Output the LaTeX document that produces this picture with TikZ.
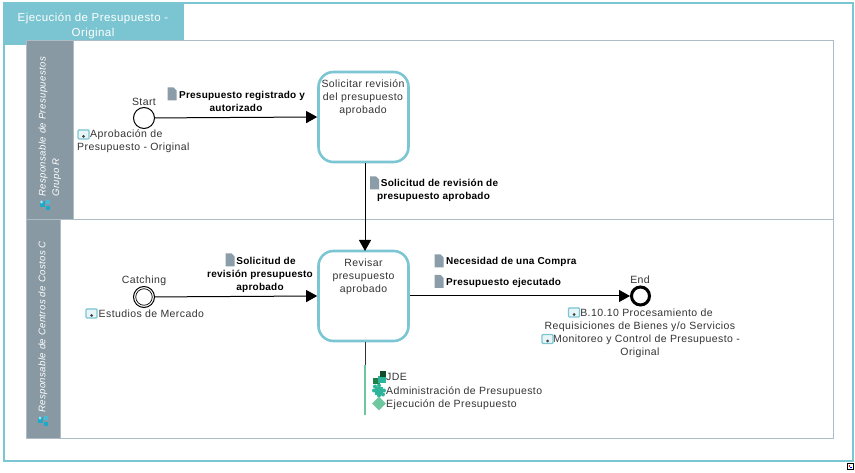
\documentclass[tikz,border=0pt]{standalone}
\usepackage{fontspec}
\setmainfont{Liberation Sans}[LetterSpace=3.9]
\newfontface\flowface{Liberation Sans Bold}[LetterSpace=2.5]
\usetikzlibrary{arrows.meta,shapes.geometric}
\definecolor{tealline}{HTML}{7CC6D3}
\definecolor{titlefill}{HTML}{7AC5D1}
\definecolor{titlestrip}{HTML}{B2DDE4}
\definecolor{lanefill}{HTML}{8899A3}
\definecolor{laneline}{HTML}{AEBDC5}
\definecolor{docgray}{HTML}{8B9DA8}
\definecolor{gemgreen}{HTML}{6FC79F}
\definecolor{puzzleteal}{HTML}{2CB59A}
\definecolor{puzzledark}{HTML}{1E7F4A}
\definecolor{groupcyan}{HTML}{1FA9C9}
\definecolor{textgray}{HTML}{333333}
\tikzset{
  lbl/.style={font=\fontsize{10.5}{13}\selectfont, text=textgray, align=center, inner sep=0pt},
  flowlbl/.style={font=\fontsize{10}{13}\selectfont\flowface, text=black, align=center, inner sep=0pt},
  lanelbl/.style={font=\fontsize{9.6}{13.5}\selectfont\itshape, text=white, rotate=90, align=left, anchor=west, inner sep=0pt},
  lanebox/.style={draw=laneline, line width=1pt, fill=white},
  lanehead/.style={draw=laneline, line width=1pt, fill=lanefill},
  taskbox/.style={draw=tealline, line width=2.6pt, fill=white, rounded corners=15pt, minimum width=90pt, minimum height=90pt, inner sep=0pt},
  evt/.style={circle, draw=black, fill=white, line width=1pt, minimum size=21pt, inner sep=0pt},
  flow/.style={line width=1pt, -{Triangle[length=11pt,width=12pt]}},
  docicon/.pic={\fill[docgray] (-4.5,-6.5) -- (1.5,-6.5) -- (4.5,-3.5) -- (4.5,6.5) -- (-4.5,6.5) -- cycle;},
  linkicon/.pic={
    \fill[white!70!titlestrip] (-6,-5) rectangle (6,5);
    \draw[tealline, line width=1.3pt, rounded corners=1pt] (-5.5,-4.5) rectangle (5.5,4.5);
    \fill[black!75] (0,2) circle (1.5);
  },
  groupicon/.pic={
    \fill[groupcyan] (-5,-4) rectangle (0,2);
    \fill[groupcyan!80!white] (1,-5) rectangle (5,-1);
    \fill[groupcyan] (1,1) rectangle (5,5);
    \fill[white!60!groupcyan] (-3,-3) circle (1.6);
  },
  puzzleicon/.pic={
    \fill[puzzleteal] (-4,-4) rectangle (4,4);
    \foreach \qx/\qy in {0/-5, 0/5, -5/0, 5/0, -4/-4, 4/4}{\fill[puzzleteal] (\qx,\qy) circle (2);}
  }
}
\begin{document}
\begin{tikzpicture}[x=1pt,y=-1pt]
  \useasboundingbox (0,0) rectangle (855,473);
  % frame and title
  \draw[tealline, line width=2.8pt] (4,3) rectangle (853,461);
  \fill[titlefill] (3,3) rectangle (184,41);
  \fill[titlestrip] (60,41) rectangle (184,45.5);
  \fill[titlefill] (3,41) rectangle (60,45.5);
  \node[font=\fontsize{11.5}{15}\selectfont, text=white, align=center, inner sep=0pt] (title) at (93,26) {Ejecución de Presupuesto -\\Original};

  % lanes
  \draw[lanebox] (26,41) rectangle (833,220);
  \draw[lanebox] (26,220) rectangle (833,438);
  \draw[lanehead] (26,41) rectangle (73,220);
  \draw[lanehead] (26,220) rectangle (60,438);
  \node[lanelbl] (lanea) at (50,197) {Responsable de Presupuestos\\Grupo R};
  \node[lanelbl] (laneb) at (43,413) {Responsable de Centros de Costos C};
  \pic at (44.5,205) {groupicon};
  \pic at (43,421) {groupicon};

  % events and tasks
  \node[evt] (start) at (144,118) {};
  \node[lbl] (startlbl) at (144,101.5) {Start};
  \node[evt] (catching) at (144,297) {};
  \node[circle, draw=black, line width=0.7pt, minimum size=16.5pt, inner sep=0pt] (catchin) at (144,297) {};
  \node[lbl] (catchlbl) at (144,281) {Catching};
  \node[evt, line width=3pt, minimum size=18pt] (end) at (640.5,296) {};
  \node[lbl] (endlbl) at (640,279.5) {End};
  \node[taskbox] (solicitar) at (363.5,117) {};
  \node[taskbox] (revisar) at (363.5,296) {};
  \node[lbl] (soltxt) at (363,98) {Solicitar revisión\\del presupuesto\\aprobado};
  \node[lbl] (revtxt) at (363.5,277) {Revisar\\presupuesto\\aprobado};

  % flows
  \draw[flow] (start)--(solicitar.west);
  \draw[flow] (solicitar.south -| 365,162)--(365,251);
  \draw[flow] (catching)--(revisar.west);
  \draw[flow] (revisar.east)--(end);

  % flow labels
  \node[flowlbl] (fa) at (236,101.5) {\hspace*{12pt}Presupuesto registrado y\\autorizado};
  \pic at (172,94) {docicon};
  \node[flowlbl] (fb) at (433.5,190) {\hspace*{12pt}Solicitud de revisión de\\presupuesto aprobado};
  \pic at (374.5,183) {docicon};
  \node[flowlbl] (fc) at (260,274.5) {\hspace*{12pt}Solicitud de\\revisión presupuesto\\aprobado};
  \pic at (230,260) {docicon};
  \node[flowlbl, anchor=west] (fd) at (446,262) {Necesidad de una Compra};
  \pic at (439,261) {docicon};
  \node[flowlbl, anchor=west] (fe) at (446,282.5) {Presupuesto ejecutado};
  \pic at (439,281.5) {docicon};

  % linked processes
  \node[lbl, align=left, anchor=north west] (pa) at (77,130) {\hspace*{13pt}Aprobación de\\Presupuesto - Original};
  \pic at (83.5,134.5) {linkicon};
  \node[lbl, anchor=west] (pb) at (98.5,314) {Estudios de Mercado};
  \pic at (91.5,313.5) {linkicon};
  \node[lbl] (pc) at (640,320) {\hspace*{13pt}B.10.10 Procesamiento de\\Requisiciones de Bienes y/o Servicios};
  \pic at (574,312.5) {linkicon};
  \node[lbl] (pd) at (640,346) {\hspace*{13pt}Monitoreo y Control de Presupuesto -\\Original};
  \pic at (547.5,339) {linkicon};

  % systems
  \coordinate (stem) at (365,365);
  \coordinate (stemend) at (365,415);
  \draw[textgray, line width=0.8pt] (revisar.south -| stem)--(stem);
  \draw[gemgreen, line width=2.4pt] (stem)--(stemend);
  \fill[puzzledark] (373,378) rectangle (380,384);
  \fill[puzzleteal] (378,376) rectangle (386,383);
  \fill[puzzledark!60!black] (380,371) rectangle (386,377);
  \pic at (379,390.5) {puzzleicon};
  \node[diamond, fill=gemgreen, minimum size=14pt, inner sep=0pt] (gem) at (379,403.5) {};
  \node[lbl, anchor=west] (sa) at (386,377) {JDE};
  \node[lbl, anchor=west] (sb) at (386,391.5) {Administración de Presupuesto};
  \node[lbl, anchor=west] (sc) at (386,404.5) {Ejecución de Presupuesto};

  % corner mark
  \node[draw=black, fill=white, line width=0.7pt, minimum size=6pt, inner sep=0pt] (mark) at (850,466.5) {};
  \fill[red] (848.5,465) rectangle (850,466.5);
  \fill[blue] (850,466.5) rectangle (851.5,468);
\end{tikzpicture}
\end{document}
